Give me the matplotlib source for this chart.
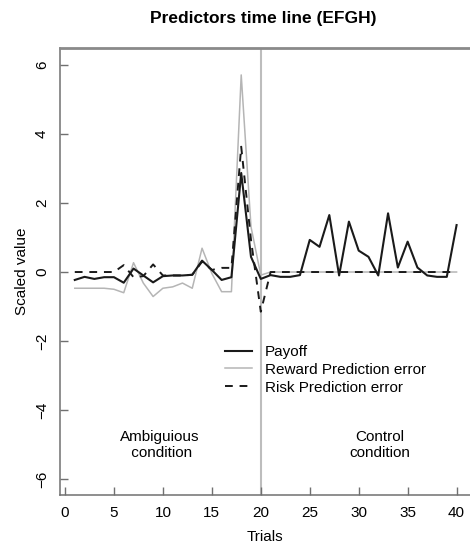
import matplotlib
matplotlib.use("Agg")
import matplotlib.pyplot as plt
import numpy as np

trials = list(range(1, 41))
payoff = [-0.23, -0.14, -0.2, -0.15, -0.15, -0.31, 0.1, -0.1, -0.3, -0.12,
          -0.1, -0.1, -0.08, 0.33, 0.06, -0.23, -0.15, 2.87, 0.44, -0.2,
          -0.09, -0.14, -0.14, -0.09, 0.93, 0.73, 1.65, -0.1, 1.46, 0.62,
          0.44, -0.1, 1.7, 0.13, 0.88, 0.13, -0.1, -0.14, -0.14, 1.36]
reward_pe = [-0.47, -0.47, -0.47, -0.47, -0.5, -0.6, 0.27, -0.32, -0.71, -0.47,
             -0.43, -0.32, -0.47, 0.69, -0.04, -0.57, -0.57, 5.71, 1.31, -0.09,
             0.0, 0.0, 0.0, 0.0, 0.0, 0.0, 0.0, 0.0, 0.0, 0.0,
             0.0, 0.0, 0.0, 0.0, 0.0, 0.0, 0.0, 0.0, 0.0, 0.0]
risk_pe = [0.0, 0.0, 0.0, 0.0, 0.0, 0.2, -0.15, -0.12, 0.22, -0.1,
           -0.1, -0.1, -0.08, 0.3, 0.06, 0.12, 0.12, 3.63, 0.93, -1.15,
           0.0, 0.0, 0.0, 0.0, 0.0, 0.0, 0.0, 0.0, 0.0, 0.0,
           0.0, 0.0, 0.0, 0.0, 0.0, 0.0, 0.0, 0.0, 0.0, 0.0]
xticks = [0, 5, 10, 15, 20, 25, 30, 35, 40]
yticks = [-6, -4, -2, 0, 2, 4, 6]
split_trial = 20

plt.rcParams['font.family'] = ['Liberation Sans', 'DejaVu Sans']

fig = plt.figure(figsize=(4.7, 5.47), dpi=100)
W, H = 470, 547
left, right, top, bottom = 60, 470, 48, 495
ax = fig.add_axes([left / W, (H - bottom) / H, (right - left) / W, (bottom - top) / H])

ax.axvline(split_trial, color='#bdbdbd', lw=1.5, zorder=1)
ax.plot(trials, reward_pe, color='#b5b5b5', lw=1.1, label='Reward Prediction error', zorder=2)
ax.plot(trials, payoff, color='#1a1a1a', lw=1.5, label='Payoff', zorder=3)
ax.plot(trials, risk_pe, color='#1a1a1a', lw=1.4, ls=(0, (4, 3.5)), label='Risk Prediction error', zorder=4)

ax.set_xlim(-0.51, 41.37)
ax.set_ylim(-6.46, 6.49)
ax.set_xticks(xticks)
ax.set_yticks(yticks)
ax.tick_params(direction='in', length=6, width=1, color='#707070', labelsize=11, pad=8)
for lab in ax.get_yticklabels():
    lab.set_rotation(90)
    lab.set_va('center')

for s in ['left', 'bottom', 'top']:
    ax.spines[s].set_color('#707070')
    ax.spines[s].set_linewidth(1.1)
ax.spines['top'].set_color('#8a8a8a')
ax.spines['top'].set_linewidth(2)
ax.spines['right'].set_visible(False)

ax.set_xlabel('Trials', fontsize=11, labelpad=7)
ax.set_ylabel('Scaled value', fontsize=11, labelpad=4)
fig.text(263 / W, 1 - 18 / H, 'Predictors time line (EFGH)', ha='center', va='center',
         fontsize=12.5, fontweight='bold')

handles, labels = ax.get_legend_handles_labels()
order = [1, 0, 2]
ax.legend([handles[i] for i in order], [labels[i] for i in order],
          loc='upper left', bbox_to_anchor=((225 - left) / (right - left), (bottom - 345) / (bottom - top)),
          frameon=False, fontsize=11, handlelength=1.75, handletextpad=0.85,
          labelspacing=0.25, borderpad=0, borderaxespad=0)

ax.text(9.7, -5.0, 'Ambiguious\n condition', ha='center', va='center', fontsize=11, linespacing=1.2)
ax.text(32.2, -5.0, 'Control\ncondition', ha='center', va='center', fontsize=11, linespacing=1.2)

fig.savefig('out.png', dpi=100)
